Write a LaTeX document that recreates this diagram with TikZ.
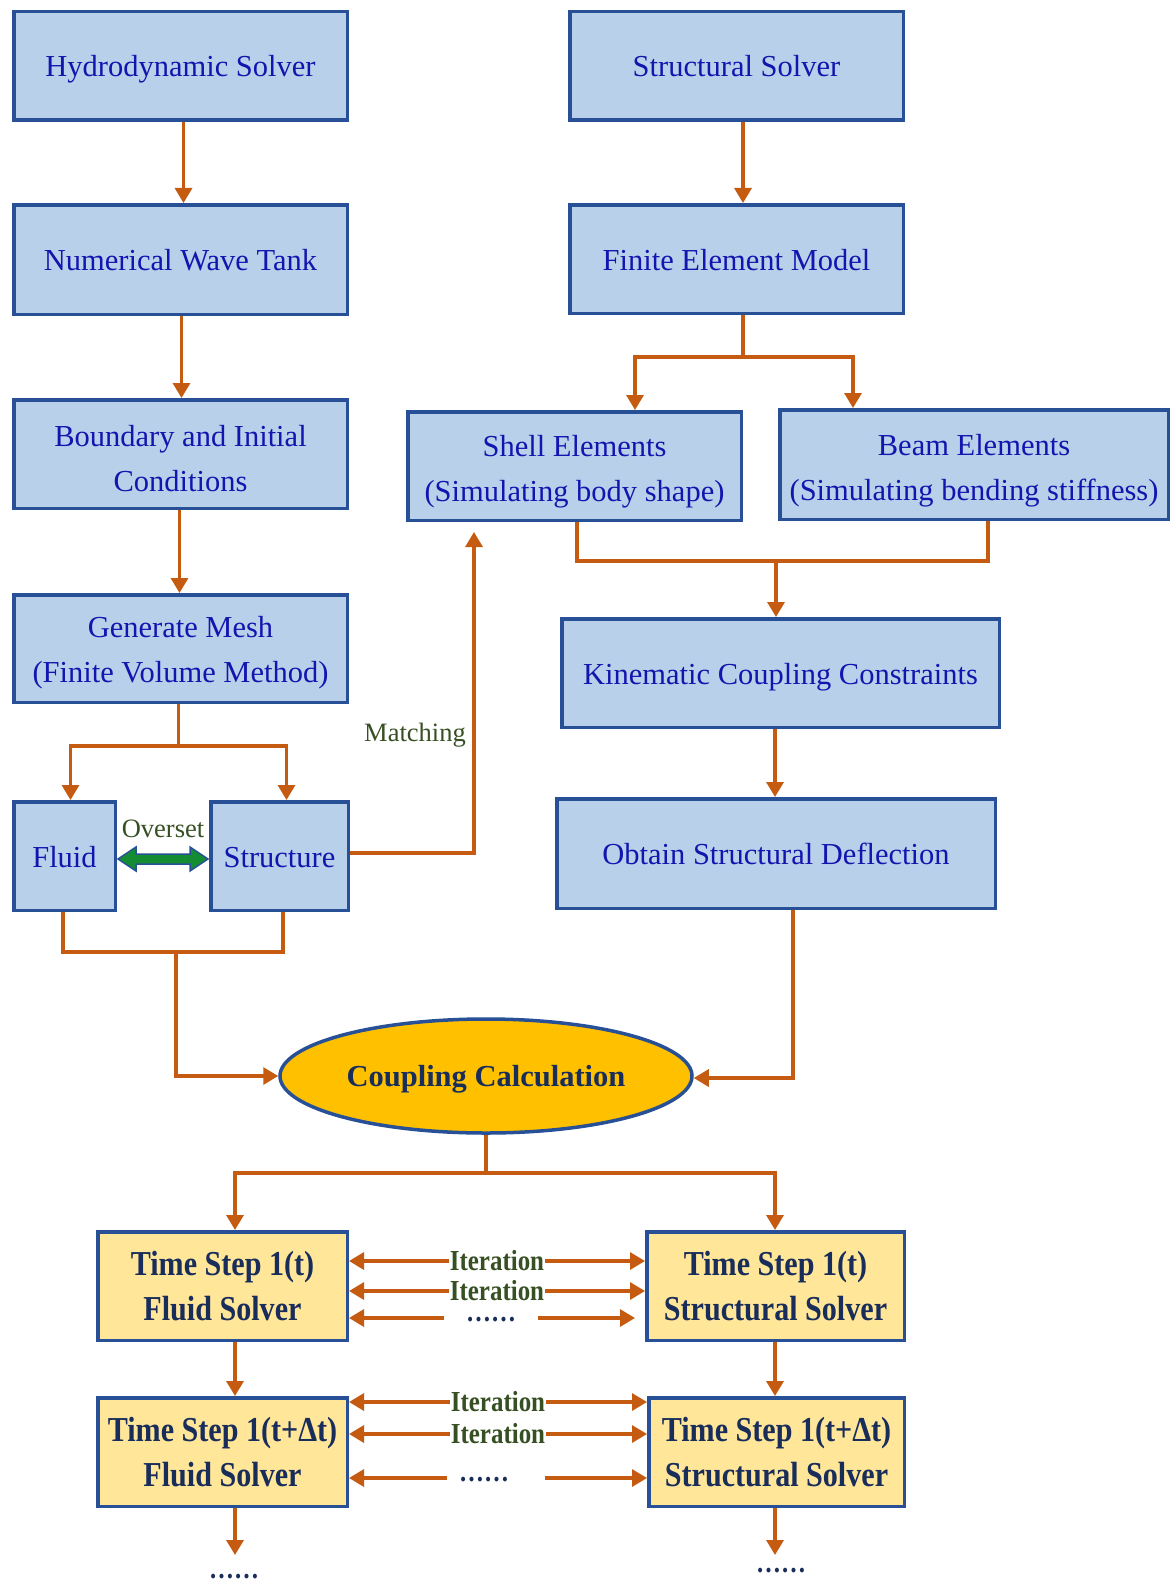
\documentclass[tikz,border=0pt]{standalone}
\usepackage{fontspec}
\setmainfont{Liberation Serif}
\newfontfamily\condserif[FakeStretch=0.86]{Liberation Serif}
\usetikzlibrary{arrows.meta,shapes.geometric}
\definecolor{boxfill}{RGB}{184,208,234}
\definecolor{boxline}{RGB}{40,80,150}
\definecolor{txtblue}{RGB}{20,20,175}
\definecolor{orangeC}{RGB}{197,90,17}
\definecolor{yfill}{RGB}{255,230,153}
\definecolor{efill}{RGB}{255,192,0}
\definecolor{navy}{RGB}{25,45,90}
\definecolor{dgreen}{RGB}{55,80,35}
\definecolor{agreen}{RGB}{20,140,50}
\newcommand{\twoln}[3]{\raisebox{-#1}[0pt][0pt]{#2}\\\raisebox{-#1}[0pt][0pt]{#3}}
\begin{document}
\begin{tikzpicture}[x=1pt,y=-1pt,
 bbox/.style={draw=boxline, line width=3.5pt, fill=boxfill, text=txtblue, font=\fontsize{30.5}{45}\selectfont, align=center, inner sep=0pt, minimum height=108.5pt},
 sbox/.style={bbox, execute at begin node={\rule[-7pt]{0pt}{36pt}}},
 ybox/.style={draw=boxline, line width=3.5pt, fill=yfill, text=navy, font=\condserif\bfseries\fontsize{35}{45.5}\selectfont, align=center, inner sep=0pt, minimum height=108.5pt},
 conn/.style={draw=orangeC, line width=3.2pt},
 arr/.style={conn, -{Triangle[length=15pt,width=17pt]}},
 darr/.style={conn, {Triangle[length=15pt,width=17pt]}-{Triangle[length=15pt,width=17pt]}},
 itl/.style={fill=white, text=dgreen, font=\condserif\bfseries\fontsize{29}{30}\selectfont, inner xsep=1pt, inner ysep=0pt},
 dots/.style={text=navy, font=\condserif\bfseries\fontsize{29}{30}\selectfont, inner sep=0pt},
 lbl/.style={text=dgreen, font=\fontsize{26.5}{30}\selectfont, inner sep=0pt}
]
\useasboundingbox (0,0) rectangle (1171,1581);

% left column
\node[sbox, minimum width=333.5pt] (hs) at (180.5,66) {Hydrodynamic Solver};
\node[sbox, minimum width=333.5pt, minimum height=109.5pt] (nwt) at (180.5,259.5) {Numerical Wave Tank};
\node[bbox, minimum width=333.5pt] (bic) at (180.5,454) {\twoln{15pt}{Boundary and Initial}{Conditions}};
\node[bbox, minimum width=333.5pt, minimum height=107.5pt] (gm) at (180.5,648.5) {\twoln{11.5pt}{Generate Mesh}{(Finite Volume Method)}};
\node[sbox, minimum width=101.5pt] (fluid) at (64.5,856) {Fluid};
\node[sbox, minimum width=137.5pt] (struc) at (279.5,856) {Structure};

% right column
\node[sbox, minimum width=333.5pt] (ss) at (736.5,66) {Structural Solver};
\node[sbox, minimum width=333.5pt] (fem) at (736.5,259) {Finite Element Model};
\node[bbox, minimum width=333.5pt] (shell) at (574.5,466) {\twoln{12.5pt}{Shell Elements}{(Simulating body shape)}};
\node[bbox, minimum width=388.5pt, minimum height=109.5pt] (beam) at (974,464.5) {\twoln{13pt}{Beam Elements}{(Simulating bending stiffness)}};
\node[sbox, minimum width=437.5pt] (kcc) at (780.5,673) {Kinematic Coupling Constraints};
\node[sbox, minimum width=438.5pt, minimum height=109.5pt] (osd) at (776,853.5) {Obtain Structural Deflection};

% coupling
\node[ellipse, draw=boxline, line width=3.5pt, fill=efill, text=navy, inner sep=0pt,
      minimum width=412pt, minimum height=114pt, font=\bfseries\fontsize{30.5}{36}\selectfont] (cc) at (486,1076) {\rule[-7pt]{0pt}{34pt}Coupling Calculation};

% time steps
\node[ybox, minimum width=249.5pt] (ts1f) at (222.5,1286) {Time Step 1(t)\\Fluid Solver};
\node[ybox, minimum width=257.5pt] (ts1s) at (775.5,1286) {Time Step 1(t)\\Structural Solver};
\node[ybox, minimum width=249.5pt] (ts2f) at (222.5,1452) {Time Step 1(t+Δt)\\Fluid Solver};
\node[ybox, minimum width=255.5pt] (ts2s) at (776.5,1452) {Time Step 1(t+Δt)\\Structural Solver};

% left column connectors
\draw[arr] ([xshift=3pt]hs.south) -- ([xshift=3pt]nwt.north);
\draw[arr] ([xshift=1pt]nwt.south) -- ([xshift=1pt]bic.north);
\draw[arr] ([xshift=-1pt]bic.south) -- ([xshift=-1pt]gm.north);
\coordinate (gmj) at (178.5,746);
\draw[conn] ([xshift=-2pt]gm.south) -- (gmj);
\draw[arr] (gmj) -| ([xshift=6pt]fluid.north);
\draw[arr] (gmj) -| ([xshift=7pt]struc.north);

% overset
\fill[agreen, draw=boxline, line width=1.5pt, line join=miter]
  (118,859) -- (136,847) -- (136,854) -- (190,854) -- (190,847) -- (208,859)
  -- (190,871) -- (190,864) -- (136,864) -- (136,871) -- cycle;
\node[lbl] (ov) at (163,829) {Overset};

\coordinate (fsj) at (176,952);
\draw[conn] ([xshift=-1.5pt]fluid.south) |- (fsj) -| ([xshift=3.5pt]struc.south);
\draw[arr] (fsj) |- (cc.west);

% matching
\coordinate (mt) at (474,532);
\draw[arr] ([yshift=3pt]struc.east) -| (mt);
\node[lbl, anchor=east] (match) at (466,735) {Matching};

% right column connectors
\draw[arr] ([xshift=6.5pt]ss.south) -- ([xshift=6.5pt]fem.north);
\coordinate (femj) at (743,357);
\draw[conn] ([xshift=6.5pt]fem.south) -- (femj);
\draw[arr] (femj) -| ([xshift=60.5pt]shell.north);
\draw[arr] (femj) -| ([xshift=-121pt]beam.north);
\coordinate (sbj) at (776,561);
\draw[conn] ([xshift=2.5pt]shell.south) |- (sbj) -| ([xshift=14pt]beam.south);
\draw[arr] (sbj) -- ([xshift=-4.5pt]kcc.north);
\draw[arr] ([xshift=-5.5pt]kcc.south) -- ([xshift=-1pt]osd.north);
\draw[arr] ([xshift=17pt]osd.south) |- ([yshift=-2pt]cc.east);

% coupling split
\coordinate (ccj) at (486,1173);
\draw[conn] (cc.south) -- (ccj);
\draw[arr] (ccj) -| ([xshift=12.5pt]ts1f.north);
\draw[arr] (ccj) -| ([xshift=-0.5pt]ts1s.north);
\draw[arr] ([xshift=12.5pt]ts1f.south) -- ([xshift=12.5pt]ts2f.north);
\draw[arr] ([xshift=-0.5pt]ts1s.south) -- ([xshift=-1.5pt]ts2s.north);

\coordinate (fd) at (235,1555);
\coordinate (sd) at (775,1555);
\draw[arr] ([xshift=12.5pt]ts2f.south) -- (fd);
\draw[arr] ([xshift=-1.5pt]ts2s.south) -- (sd);
\node[dots] (dl) at (234,1577) {……};
\node[dots] (dr) at (781,1571) {……};

% iterations step 1
\draw[darr] ([yshift=25pt]ts1f.east) -- ([yshift=25pt]ts1s.west) node[itl, midway] (i1) {Iteration};
\draw[darr] ([yshift=-5pt]ts1f.east) -- ([yshift=-5pt]ts1s.west) node[itl, midway] (i2) {Iteration};
\coordinate (r3a) at (444,1318);
\coordinate (r3b) at (538,1318);
\coordinate (r3c) at (635,1318);
\draw[arr] (r3a) -- (ts1f.east |- r3a);
\draw[arr] (r3b) -- (r3c);
\node[dots] (d3) at (491,1320) {……};

% iterations step 2
\draw[darr] ([yshift=50pt]ts2f.east) -- ([yshift=50pt]ts2s.west) node[itl, midway] (i4) {Iteration};
\draw[darr] ([yshift=18pt]ts2f.east) -- ([yshift=18pt]ts2s.west) node[itl, midway] (i5) {Iteration};
\coordinate (r6a) at (447,1478);
\coordinate (r6b) at (545,1478);
\draw[arr] (r6a) -- (ts2f.east |- r6a);
\draw[arr] (r6b) -- (ts2s.west |- r6b);
\node[dots] (d6) at (484,1480) {……};
\end{tikzpicture}
\end{document}
